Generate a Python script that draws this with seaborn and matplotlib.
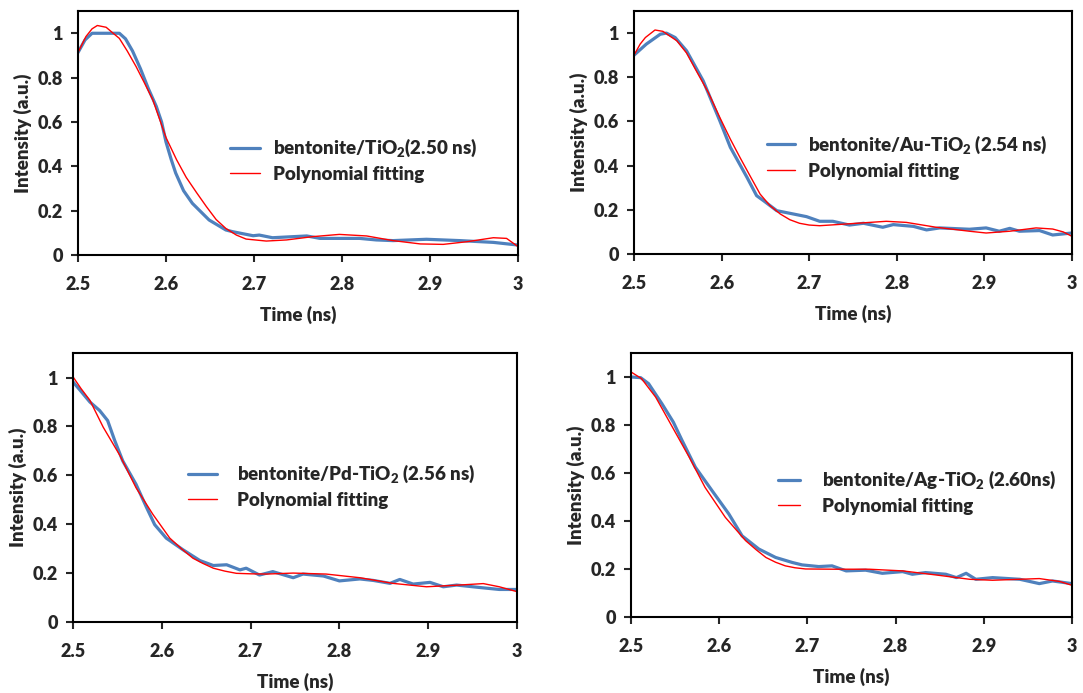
import matplotlib
matplotlib.use('Agg')
import matplotlib.pyplot as plt
import seaborn as sns

# Panel (a): bentonite/TiO2
t_tio2 = [2.5, 2.508, 2.516, 2.535, 2.547, 2.554, 2.562, 2.571, 2.58, 2.589, 2.595, 2.6, 2.606,
          2.611, 2.62, 2.63, 2.649, 2.668, 2.676, 2.699, 2.706, 2.721, 2.76, 2.775, 2.82, 2.839,
          2.858, 2.896, 2.915, 2.934, 2.972, 3.0]
i_tio2 = [0.913, 0.97, 1.0, 1.0, 1.0, 0.975, 0.92, 0.84, 0.75, 0.67, 0.6, 0.51, 0.43,
          0.37, 0.29, 0.233, 0.158, 0.113, 0.105, 0.087, 0.09, 0.078, 0.086, 0.075, 0.075, 0.068,
          0.065, 0.071, 0.068, 0.065, 0.057, 0.045]
t_tio2_fit = [2.5, 2.509, 2.516, 2.522, 2.532, 2.54, 2.547, 2.556, 2.566, 2.575, 2.585, 2.6, 2.612,
              2.623, 2.635, 2.646, 2.657, 2.668, 2.68, 2.691, 2.714, 2.737, 2.767, 2.797, 2.828,
              2.858, 2.889, 2.915, 2.942, 2.972, 2.987, 3.0]
i_tio2_fit = [0.913, 0.985, 1.02, 1.035, 1.027, 1.0, 0.977, 0.92, 0.85, 0.78, 0.70, 0.53, 0.43,
              0.35, 0.28, 0.218, 0.16, 0.12, 0.09, 0.072, 0.063, 0.068, 0.083, 0.093, 0.086,
              0.065, 0.05, 0.048, 0.06, 0.078, 0.075, 0.038]

# Panel (b): bentonite/Au-TiO2
t_au = [2.5, 2.514, 2.53, 2.537, 2.547, 2.56, 2.579, 2.598, 2.61, 2.629, 2.64, 2.648, 2.663,
        2.682, 2.697, 2.712, 2.727, 2.746, 2.762, 2.784, 2.796, 2.819, 2.834, 2.849, 2.883,
        2.902, 2.917, 2.929, 2.94, 2.963, 2.978, 3.0]
i_au = [0.90, 0.95, 0.995, 1.0, 0.98, 0.92, 0.784, 0.603, 0.483, 0.347, 0.264, 0.241, 0.196,
        0.181, 0.169, 0.148, 0.148, 0.131, 0.139, 0.121, 0.133, 0.125, 0.109, 0.118, 0.112,
        0.118, 0.103, 0.116, 0.103, 0.106, 0.086, 0.095]
t_au_fit = [2.5, 2.507, 2.513, 2.524, 2.533, 2.549, 2.56, 2.571, 2.585, 2.598, 2.61, 2.621, 2.633,
            2.644, 2.655, 2.667, 2.678, 2.689, 2.7, 2.712, 2.743, 2.788, 2.811, 2.845, 2.883,
            2.902, 2.929, 2.959, 2.978, 2.99, 3.0]
i_au_fit = [0.90, 0.95, 0.98, 1.014, 1.008, 0.965, 0.91, 0.83, 0.73, 0.618, 0.52, 0.437, 0.35,
            0.271, 0.22, 0.181, 0.155, 0.139, 0.131, 0.128, 0.136, 0.148, 0.143, 0.121, 0.103,
            0.095, 0.103, 0.118, 0.113, 0.1, 0.08]

# Panel (c): bentonite/Pd-TiO2
t_pd = [2.5, 2.508, 2.519, 2.53, 2.539, 2.547, 2.556, 2.571, 2.583, 2.592, 2.605, 2.624, 2.643,
        2.658, 2.673, 2.688, 2.695, 2.71, 2.725, 2.748, 2.759, 2.782, 2.8, 2.823, 2.838, 2.857,
        2.868, 2.883, 2.902, 2.917, 2.932, 2.958, 2.98, 3.0]
i_pd = [0.982, 0.948, 0.9, 0.865, 0.824, 0.742, 0.659, 0.563, 0.467, 0.398, 0.343, 0.295, 0.251,
        0.231, 0.234, 0.213, 0.22, 0.192, 0.206, 0.181, 0.196, 0.188, 0.168, 0.176, 0.17, 0.158,
        0.174, 0.155, 0.162, 0.144, 0.151, 0.141, 0.133, 0.133]
t_pd_fit = [2.5, 2.509, 2.519, 2.534, 2.553, 2.571, 2.59, 2.609, 2.622, 2.635, 2.646, 2.658,
            2.671, 2.684, 2.7, 2.718, 2.748, 2.785, 2.823, 2.86, 2.898, 2.935, 2.962, 2.98, 3.0]
i_pd_fit = [1.003, 0.955, 0.907, 0.797, 0.68, 0.549, 0.44, 0.343, 0.3, 0.261, 0.24, 0.22,
            0.208, 0.199, 0.197, 0.196, 0.2, 0.196, 0.181, 0.158, 0.144, 0.151, 0.157, 0.144, 0.124]

# Panel (d): bentonite/Ag-TiO2
t_ag = [2.5, 2.511, 2.52, 2.535, 2.548, 2.558, 2.573, 2.592, 2.611, 2.626, 2.645, 2.664, 2.683,
        2.694, 2.713, 2.728, 2.744, 2.766, 2.785, 2.808, 2.819, 2.834, 2.857, 2.869, 2.88, 2.891,
        2.91, 2.941, 2.963, 2.978, 3.0]
i_ag = [1.0, 0.997, 0.972, 0.889, 0.812, 0.735, 0.624, 0.526, 0.429, 0.338, 0.283, 0.248, 0.227,
        0.217, 0.21, 0.213, 0.192, 0.195, 0.182, 0.189, 0.178, 0.185, 0.178, 0.164, 0.182, 0.157,
        0.164, 0.157, 0.139, 0.15, 0.139]
t_ag_fit = [2.5, 2.512, 2.528, 2.547, 2.566, 2.584, 2.607, 2.63, 2.642, 2.653, 2.664, 2.675,
            2.686, 2.698, 2.732, 2.77, 2.808, 2.846, 2.884, 2.91, 2.94, 2.963, 2.986, 3.0]
i_ag_fit = [1.021, 0.993, 0.916, 0.791, 0.666, 0.54, 0.415, 0.318, 0.28, 0.248, 0.228, 0.213,
            0.205, 0.2, 0.199, 0.199, 0.192, 0.175, 0.157, 0.153, 0.157, 0.16, 0.148, 0.132]

labels = [r'bentonite/TiO$_2$(2.50 ns)', r'bentonite/Au-TiO$_2$ (2.54 ns)',
          r'bentonite/Pd-TiO$_2$ (2.56 ns)', r'bentonite/Ag-TiO$_2$ (2.60ns)']
x_ticks = [2.5, 2.6, 2.7, 2.8, 2.9, 3.0]
x_tick_labels = ['2.5', '2.6', '2.7', '2.8', '2.9', '3']
y_ticks = [0, 0.2, 0.4, 0.6, 0.8, 1.0]
y_tick_labels = ['0', '0.2', '0.4', '0.6', '0.8', '1']

sns.set_style('ticks')
plt.rcParams.update({
    'font.family': ['Lato', 'DejaVu Sans'],
    'font.weight': 'heavy',
    'mathtext.fontset': 'custom',
    'mathtext.rm': 'Lato:heavy',
    'mathtext.bf': 'Lato:heavy',
    'mathtext.default': 'bf',
    'axes.linewidth': 1.5,
    'axes.edgecolor': 'black',
})

BLUE = '#4F81BD'
RED = '#FF0000'

fig = plt.figure(figsize=(10.83, 6.93), dpi=100)
positions = [
    [0.0720, 0.632, 0.4063, 0.352],
    [0.5854, 0.6335, 0.4044, 0.3506],
    [0.0674, 0.1025, 0.4100, 0.388],
    [0.5826, 0.1097, 0.4072, 0.381],
]
panels = [
    (t_tio2, i_tio2, t_tio2_fit, i_tio2_fit),
    (t_au, i_au, t_au_fit, i_au_fit),
    (t_pd, i_pd, t_pd_fit, i_pd_fit),
    (t_ag, i_ag, t_ag_fit, i_ag_fit),
]
# legend anchor (axes fraction), handle length, text pad
leg_opts = [
    ((0.345, 0.39), 1.6, 0.7),
    ((0.304, 0.40), 1.5, 0.7),
    ((0.259, 0.506), 1.55, 1.07),
    ((0.333, 0.473), 1.17, 1.17),
]

for pos, (tx, iy, tf, yf), lab, (anchor, hl, htp) in zip(positions, panels, labels, leg_opts):
    ax = fig.add_axes(pos)
    sns.lineplot(x=tx, y=iy, ax=ax, color=BLUE, linewidth=2.3, label=lab, sort=False)
    sns.lineplot(x=tf, y=yf, ax=ax, color=RED, linewidth=1.0, label='Polynomial fitting', sort=False)
    ax.set_xlim(2.5, 3.0)
    ax.set_ylim(0, 1.1)
    ax.set_xticks(x_ticks)
    ax.set_xticklabels(x_tick_labels)
    ax.set_yticks(y_ticks)
    ax.set_yticklabels(y_tick_labels)
    ax.tick_params(axis='x', direction='out', length=5, width=1.5, pad=10, labelsize=13)
    ax.tick_params(axis='y', direction='out', length=5, width=1.5, pad=6, labelsize=13)
    for lbl in ax.get_xticklabels() + ax.get_yticklabels():
        lbl.set_fontweight('heavy')
    for s in ax.spines.values():
        s.set_visible(True)
        s.set_linewidth(1.5)
    ax.set_xlabel('Time (ns)', fontsize=13.5, fontweight='heavy', labelpad=9)
    ax.set_ylabel('Intensity (a.u.)', fontsize=13.5, fontweight='heavy', labelpad=4)
    ax.legend(loc='center left', bbox_to_anchor=anchor, frameon=False, borderpad=0,
              borderaxespad=0, handlelength=hl, handletextpad=htp, labelspacing=0.35,
              prop={'weight': 'heavy', 'size': 13.5})

fig.savefig('out.png', dpi=100, facecolor='white')
